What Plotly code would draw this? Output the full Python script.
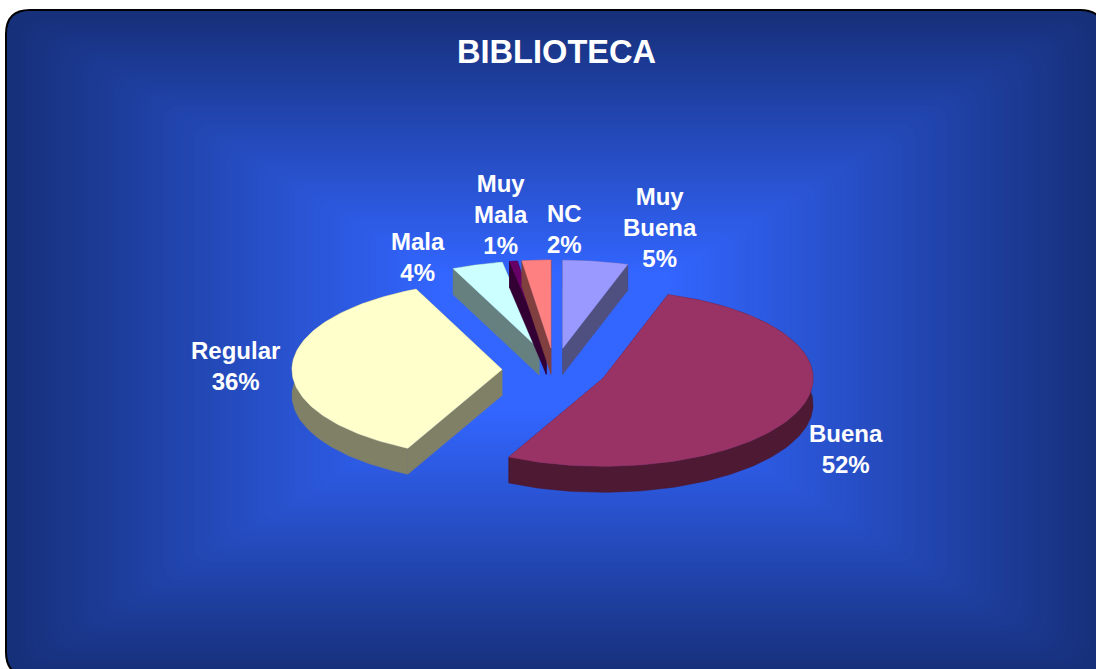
import numpy as np
import plotly.graph_objects as go

# ---- data ----
categories = ["Muy Buena", "Buena", "Regular", "Mala", "Muy Mala", "NC"]
values = [5.0, 52.4, 35.9, 3.9, 0.6, 2.2]
top_colors = ["#9999FF", "#993366", "#FFFFCC", "#CCFFFF", "#660066", "#FF8080"]
side_colors = ["#4F4F80", "#4D1933", "#808066", "#668080", "#330033", "#804040"]
label_texts = ["Muy<br>Buena", "Buena", "Regular", "Mala", "Muy<br>Mala", "NC"]
label_px = [659.5, 845.5, 236, 418, 501, 564]
label_py = [227, 449, 366, 257, 214, 229]
title_text = "BIBLIOTECA"

W, H = 1096, 669
CX, CY, RX, RY = 554.5, 370.0, 210.0, 88.0
PULL = 0.25
DEPTH = 26.0 / RY
draw_order = [3, 4, 5, 0, 2, 1]


def hex2rgb(h):
    return np.array([int(h[i:i + 2], 16) for i in (1, 3, 5)], float)


def rounded(x0, y0, x1, y1, r):
    X = lambda v: f"{v / W:.5f}"
    Y = lambda v: f"{1 - v / H:.5f}"
    return (f"M{X(x0 + r)},{Y(y0)} L{X(x1 - r)},{Y(y0)} Q{X(x1)},{Y(y0)} {X(x1)},{Y(y0 + r)} "
            f"L{X(x1)},{Y(y1 - r)} Q{X(x1)},{Y(y1)} {X(x1 - r)},{Y(y1)} "
            f"L{X(x0 + r)},{Y(y1)} Q{X(x0)},{Y(y1)} {X(x0)},{Y(y1 - r)} "
            f"L{X(x0)},{Y(y0 + r)} Q{X(x0)},{Y(y0)} {X(x0 + r)},{Y(y0)} Z")


shapes = []
BX0, BY0, BX1, BY1 = 6.0, 10.0, 1104.0, 676.0
outer, inner = hex2rgb("#17307A"), hex2rgb("#3366FF")
shapes.append(dict(type="path", xref="paper", yref="paper", path=rounded(BX0, BY0, BX1, BY1, 24),
                   fillcolor="#17307A", line=dict(color="#000000", width=2), layer="below"))
steps = 70
for k in range(1, steps):
    t = k / steps * 0.8
    c = outer + (inner - outer) * (k / (steps - 1))
    ix = t * (BX1 - BX0) / 2
    iy = t * (BY1 - BY0) / 2
    col = "rgb(%d,%d,%d)" % tuple(c)
    shapes.append(dict(type="path", xref="paper", yref="paper",
                       path=rounded(BX0 + ix, BY0 + iy, BX1 - ix, BY1 - iy, 24 * (1 - k / steps) + 4),
                       fillcolor=col, line=dict(width=0), layer="below"))

fig = go.Figure()


def add_poly(xs, ys, color):
    fig.add_trace(go.Scatter(x=list(xs), y=list(ys), mode="lines", fill="toself", fillcolor=color,
                             line=dict(color=color, width=0.5), hoverinfo="skip", showlegend=False))


total = sum(values)
edges = np.concatenate([[0], np.cumsum(values)]) / total * 2 * np.pi
for i in draw_order:
    a0, a1 = edges[i], edges[i + 1]
    mid = (a0 + a1) / 2
    ox, oy = PULL * np.sin(mid), PULL * np.cos(mid)
    th = np.linspace(a0, a1, 120)
    ax, ay = ox + np.sin(th), oy + np.cos(th)
    # radial walls
    for ex, ey in ((ax[0], ay[0]), (ax[-1], ay[-1])):
        add_poly([ox, ex, ex, ox, ox], [oy, ey, ey - DEPTH, oy - DEPTH, oy], side_colors[i])
    # outer wall
    add_poly(np.concatenate([ax, ax[::-1], ax[:1]]),
             np.concatenate([ay, ay[::-1] - DEPTH, ay[:1]]), side_colors[i])
    # top face
    add_poly(np.concatenate([[ox], ax, [ox]]), np.concatenate([[oy], ay, [oy]]), top_colors[i])

annotations = [dict(text=f"<b>{title_text}</b>", x=556 / W, y=1 - 51 / H, xref="paper", yref="paper",
                    xanchor="center", yanchor="middle", showarrow=False,
                    font=dict(family="Liberation Sans", size=32.6, color="white"))]
for txt, v, px, py in zip(label_texts, values, label_px, label_py):
    annotations.append(dict(text=f"<b>{txt}<br>{v:.0f}%</b>", x=px / W, y=1 - py / H, xref="paper", yref="paper",
                            xanchor="center", yanchor="middle", showarrow=False, align="center",
                            font=dict(family="Liberation Sans", size=24, color="white")))

fig.update_layout(
    width=W, height=H, margin=dict(l=0, r=0, t=0, b=0),
    paper_bgcolor="white", plot_bgcolor="rgba(0,0,0,0)", showlegend=False,
    xaxis=dict(range=[(0 - CX) / RX, (W - CX) / RX], visible=False, fixedrange=True),
    yaxis=dict(range=[(CY - H) / RY, CY / RY], visible=False, fixedrange=True),
    shapes=shapes, annotations=annotations,
)
fig.write_html("out.html", config=dict(displayModeBar=False),
               post_script="document.body.style.margin='0';document.body.style.overflow='hidden';")
